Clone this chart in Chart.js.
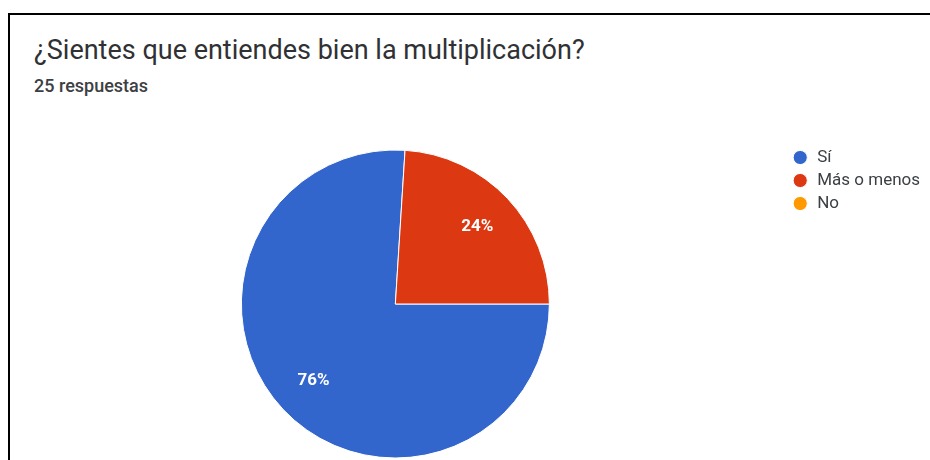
<!DOCTYPE html>
<html lang="es">
<head>
<meta charset="utf-8">
<title>¿Sientes que entiendes bien la multiplicación?</title>
<script src="https://cdn.jsdelivr.net/npm/chart.js@4.4.1/dist/chart.umd.min.js"></script>
<style>
  html, body {
    margin: 0;
    width: 930px;
    height: 460px;
    overflow: hidden;
    background: #fff;
    font-family: Roboto, "Noto Sans", sans-serif;
  }
  .frame {
    position: absolute;
    left: 8px;
    top: 13px;
    right: 0;
    bottom: -20px;
    border-left: 2px solid #000;
    border-top: 2px solid #000;
  }
  .title {
    position: absolute;
    left: 34px;
    top: 35px;
    font-size: 27px;
    line-height: 30px;
    color: #303134;
    white-space: nowrap;
  }
  .subtitle {
    position: absolute;
    left: 34px;
    top: 76px;
    font-size: 18px;
    line-height: 20px;
    font-weight: 500;
    color: #3c4043;
    white-space: nowrap;
  }
  #chart {
    position: absolute;
    left: 0;
    top: 0;
  }
</style>
</head>
<body>
<div class="frame"></div>
<div class="title">¿Sientes que entiendes bien la multiplicación?</div>
<div class="subtitle">25 respuestas</div>
<canvas id="chart" width="930" height="466"></canvas>

<script>
// respuestas del formulario
const opciones = ['Sí', 'Más o menos', 'No'];
const respuestas = [19, 6, 0];
const colores = ['#3366cc', '#dc3912', '#ff9900'];

// porcentaje escrito dentro de cada sector
const etiquetasPorcentaje = {
  id: 'etiquetasPorcentaje',
  afterDatasetsDraw(chart) {
    const { ctx } = chart;
    const valores = chart.data.datasets[0].data;
    const total = valores.reduce((a, b) => a + b, 0);
    const meta = chart.getDatasetMeta(0);

    ctx.save();
    ctx.fillStyle = '#fff';
    ctx.font = 'bold 17px Roboto, sans-serif';
    ctx.textAlign = 'center';
    ctx.textBaseline = 'middle';
    meta.data.forEach((arc, i) => {
      if (!valores[i]) return;
      const { x, y, startAngle, endAngle, outerRadius } = arc.getProps(['x', 'y', 'startAngle', 'endAngle', 'outerRadius'], true);
      const medio = (startAngle + endAngle) / 2;
      const r = outerRadius * 0.73;
      const texto = Math.round(valores[i] / total * 100) + '%';
      ctx.fillText(texto, x + Math.cos(medio) * r, y + Math.sin(medio) * r);
    });
    ctx.restore();
  }
};

new Chart(document.getElementById('chart'), {
  type: 'pie',
  data: {
    labels: opciones,
    datasets: [{
      data: respuestas,
      backgroundColor: colores,
      borderColor: '#fff',
      borderWidth: 1,
      radius: 154
    }]
  },
  options: {
    responsive: false,
    animation: false,
    devicePixelRatio: 1,
    rotation: 90,  // empieza en las 3 en punto
    layout: {
      padding: { top: 143, bottom: 1, left: 5, right: 0 }
    },
    plugins: {
      legend: {
        position: 'right',
        align: 'start',
        labels: {
          usePointStyle: true,
          pointStyle: 'circle',
          boxWidth: 17,
          boxHeight: 10,
          padding: 6,
          color: '#3c4043',
          font: { family: 'Roboto', size: 17 }
        }
      },
      tooltip: { enabled: false }
    }
  },
  plugins: [etiquetasPorcentaje]
});
</script>
</body>
</html>
